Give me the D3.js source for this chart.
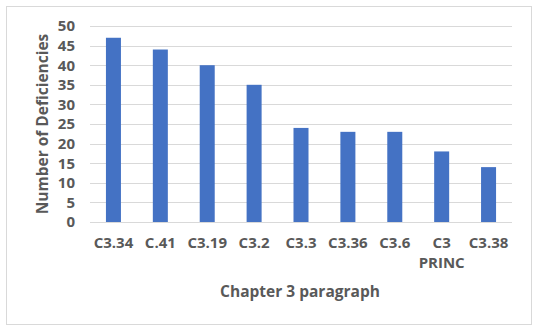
<!DOCTYPE html>
<html>
<head>
<meta charset="utf-8">
<script src="https://cdn.jsdelivr.net/npm/d3@7"></script>
<style>
  body { margin: 0; background: #fff; }
  text { font-family: "Open Sans", "Liberation Sans", sans-serif; font-weight: bold; fill: #595959; }
</style>
</head>
<body>
<div class="barchart"></div>
<script>
var categories = ["C3.34", "C.41", "C3.19", "C3.2", "C3.3", "C3.36", "C3.6", "C3 PRINC", "C3.38"];
var deficiencies = [47, 44, 40, 35, 24, 23, 23, 18, 14];
var yTicks = [0, 5, 10, 15, 20, 25, 30, 35, 40, 45, 50];

var data = categories.map(function(c, i) { return { key: c, value: deficiencies[i] }; });

var W = 539, H = 332;
var margin = { top: 26, right: 27, bottom: 110, left: 90 };
var width = W - margin.left - margin.right,
    height = H - margin.top - margin.bottom;

var svg = d3.select(".barchart").append("svg")
  .attr("width", W)
  .attr("height", H);

// chart border
svg.append("rect")
  .attr("x", 6.5).attr("y", 6.5)
  .attr("width", 525).attr("height", 318)
  .attr("fill", "#fff")
  .attr("stroke", "#d9d9d9");

var chart = svg.append("g")
  .attr("transform", "translate(" + margin.left + "," + margin.top + ")");

var xc = d3.scaleBand()
  .domain(categories)
  .range([0, width])
  .paddingInner(0.68)
  .paddingOuter(0.34);

var yc = d3.scaleLinear()
  .domain([0, 50])
  .range([height, 0]);

// gridlines
chart.append("g")
  .selectAll("line")
  .data(yTicks)
  .enter().append("line")
  .attr("x1", 0).attr("x2", width)
  .attr("y1", function(d) { return Math.round(yc(d)) + 0.5; })
  .attr("y2", function(d) { return Math.round(yc(d)) + 0.5; })
  .attr("stroke", "#d9d9d9");

chart.selectAll(".bar")
  .data(data)
  .enter().append("rect")
  .attr("class", "bar")
  .attr("x", function(d) { return xc(d.key); })
  .attr("width", xc.bandwidth())
  .attr("y", function(d) { return yc(d.value); })
  .attr("height", function(d) { return height - yc(d.value); })
  .attr("fill", "#4472c4");

// y axis labels
var yAxis = d3.axisLeft(yc).tickValues(yTicks).tickSize(0).tickPadding(15);
var gy = chart.append("g").call(yAxis);
gy.select(".domain").remove();
gy.selectAll("text").style("font-size", "15px").attr("fill", null);

// x axis labels (wrap "C3 PRINC")
var gx = chart.append("g")
  .attr("transform", "translate(0," + height + ")");
gx.selectAll("text")
  .data(categories)
  .enter().append("text")
  .attr("x", function(d) { return xc(d) + xc.bandwidth() / 2; })
  .attr("y", 26)
  .style("font-size", "15px")
  .style("text-anchor", "middle")
  .each(function(d) {
    var parts = d.indexOf("PRINC") >= 0 ? d.split(" ") : [d];
    var t = d3.select(this);
    parts.forEach(function(p, i) {
      t.append("tspan")
        .attr("x", xc(d) + xc.bandwidth() / 2)
        .attr("dy", i === 0 ? 0 : 20)
        .text(p);
    });
  });

// axis titles
svg.append("text")
  .attr("transform", "translate(" + 300 + "," + 297 + ")")
  .style("text-anchor", "middle")
  .style("font-size", "15.5px")
  .text("Chapter 3 paragraph");

svg.append("text")
  .attr("transform", "translate(" + 48 + "," + (margin.top + height / 2) + ") rotate(-90)")
  .style("text-anchor", "middle")
  .style("font-size", "15.5px")
  .text("Number of Deficiencies");
</script>
</body>
</html>
